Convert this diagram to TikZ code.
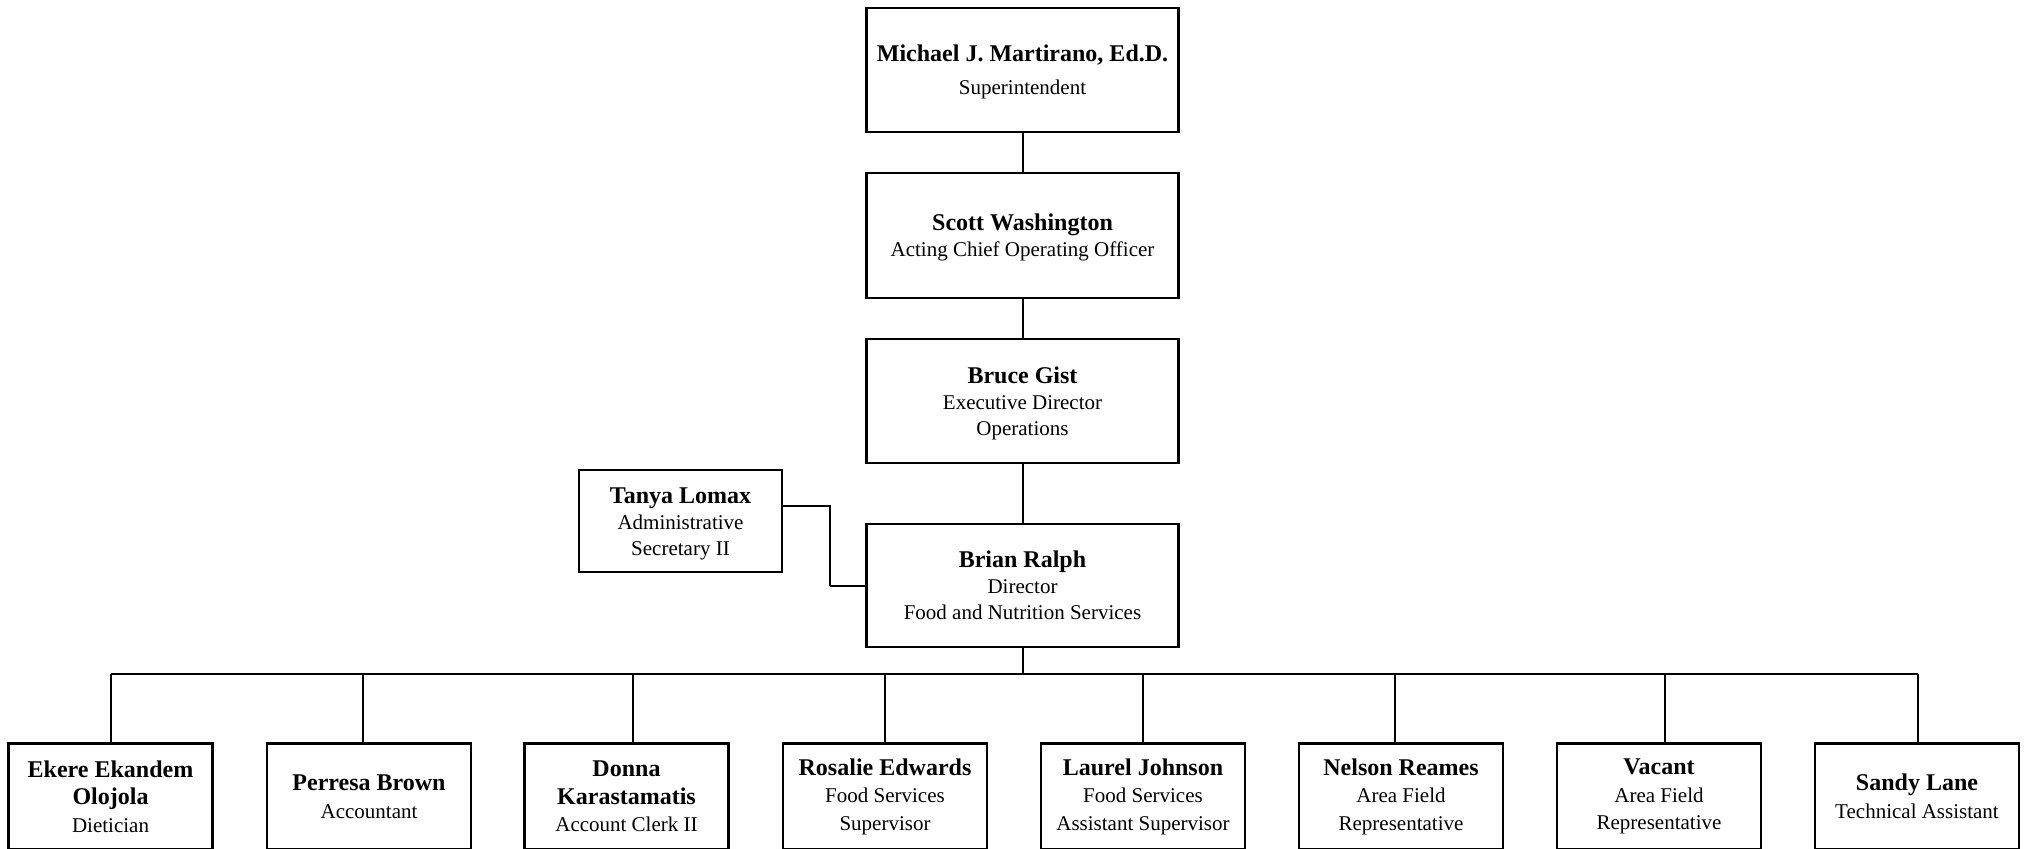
\documentclass[tikz,border=0pt]{standalone}
\usepackage{fontspec}
\setmainfont{Liberation Serif}
\begin{document}
\begin{tikzpicture}[x=0.5pt,y=-0.5pt,
  box/.style={draw=black, line width=1.1pt, rectangle, inner sep=0pt, align=center,
    font=\fontsize{10.5}{13.75}\selectfont},
  topbox/.style={box, minimum width=156pt, font=\fontsize{10.5}{13}\selectfont},
  lowbox/.style={box, minimum width=102pt, minimum height=53pt},
  conn/.style={draw=black, line width=1pt}]
\newcommand{\nme}[1]{{\fontsize{12}{13.75}\selectfont\bfseries #1}}
\newcommand{\tnm}[1]{{\fontsize{12}{13}\selectfont\bfseries\rule{0pt}{10.6pt}#1}}
\newcommand{\tnmb}[1]{{\fontsize{12}{13}\selectfont\bfseries #1}}
\useasboundingbox (0,0) rectangle (2030,848);

\node[topbox, minimum height=62pt] (sup) at (1022.5,70)
  {\tnm{Michael J. Martirano, Ed.D.}\\[3.5pt]Superintendent};
\node[topbox, minimum height=62.5pt] (coo) at (1022.5,235.5)
  {\tnm{Scott Washington}\\Acting Chief Operating Officer};
\node[topbox, minimum height=62pt] (exd) at (1022.5,401)
  {\tnm{Bruce Gist}\\Executive Director\\Operations};
\node[topbox, minimum height=61.5pt] (dir) at (1022.5,585.5)
  {\tnmb{Brian Ralph}\\Director\\Food and Nutrition Services};
\node[topbox, minimum width=101.5pt, minimum height=51pt] (sec) at (680.5,521)
  {\tnm{Tanya Lomax}\\Administrative\\Secretary II};

\node[lowbox] (c1) at (110.5,796.5) {\nme{Ekere Ekandem}\\\nme{Olojola}\\Dietician};
\node[lowbox] (c2) at (369,796.5) {\nme{Perresa Brown}\\Accountant};
\node[lowbox] (c3) at (626.5,796.5) {\nme{Donna}\\\nme{Karastamatis}\\Account Clerk II};
\node[lowbox] (c4) at (885,796.5) {\nme{Rosalie Edwards}\\Food Services\\Supervisor};
\node[lowbox] (c5) at (1143,796.5) {\nme{Laurel Johnson}\\Food Services\\Assistant Supervisor};
\node[lowbox] (c6) at (1401,796.5) {\nme{Nelson Reames}\\Area Field\\Representative};
\node[lowbox] (c7) at (1659,796.5) {\nme{Vacant}\\Area Field\\Representative};
\node[lowbox] (c8) at (1917,796.5) {\nme{Sandy Lane}\\Technical Assistant};

\draw[conn] (sup) -- (coo);
\draw[conn] (coo) -- (exd);
\draw[conn] (exd) -- (dir);
\coordinate (bend) at (830,586);
\draw[conn] ([yshift=7.5pt]sec.east) -| (bend) |- (dir.west);

\coordinate (busL) at (111,674);
\coordinate (busR) at (1917.5,674);
\draw[conn] (busL) -- (busR);
\draw[conn] (dir.south) -- (dir.south |- busL);
\foreach \c/\dx in {c1/0.25,c2/-3,c3/3.25,c4/0,c5/0,c6/-3,c7/3,c8/0.25}
  \draw[conn] ([xshift=\dx pt]\c.north) -- ([xshift=\dx pt]\c.north |- busL);
\end{tikzpicture}
\end{document}
